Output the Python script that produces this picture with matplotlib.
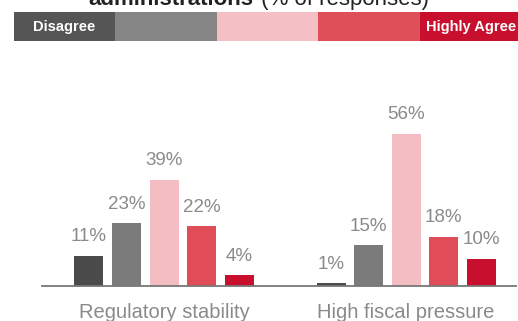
import matplotlib.pyplot as plt
import numpy as np

plt.rcParams['font.family'] = ['Liberation Sans', 'DejaVu Sans']

# survey answers per statement, from Disagree to Highly Agree
categories = ['Regulatory stability', 'High fiscal pressure']
scale_labels = ['Disagree', '', '', '', 'Highly Agree']
regulatory = [11, 23, 39, 22, 4]
fiscal = [1, 15, 56, 18, 10]

bar_colors = ['#4b4b4b', '#7b7b7b', '#f4bcc3', '#e04c57', '#c8102e']
key_colors = ['#555555', '#858585', '#f5bfc6', '#df4f59', '#c8102e']

W, H = 518, 321
fig = plt.figure(figsize=(W / 100, H / 100), dpi=100)
fig.patch.set_facecolor('white')

# title, mostly cut off at the top edge
fig.text(253 / W, 1 - 5 / H, 'administrations', ha='right', va='baseline',
         fontsize=16, fontweight='bold', color='#222222')
fig.text(255 / W, 1 - 5 / H, ' (% of responses)', ha='left', va='baseline',
         fontsize=16, color='#222222')

# colour key strip
kax = fig.add_axes([14 / W, 1 - 41 / H, 1 - 14 / W, 29 / H])
kax.barh(0, [1] * 5, left=np.arange(5), height=1, color=key_colors, align='edge')
kax.set_xlim(0, 4.97)
kax.set_ylim(0, 1)
kax.axis('off')
kax.text(0.19, 0.5, scale_labels[0], color='white', fontsize=10.5,
         fontweight='bold', va='center', ha='left')
kax.text(4.06, 0.5, scale_labels[-1], color='white', fontsize=10.5,
         fontweight='bold', va='center', ha='left')

# bar groups
px_per_pct = 2.72
base_y = 286
top_y = 60
ax = fig.add_axes([42 / W, 1 - base_y / H, (516 - 42) / W, (base_y - top_y) / H])
ax.set_facecolor('none')

step = 37.5 / 242
width = 29 / 242
offsets = (np.arange(5) - 2) * step
for g, vals in enumerate([regulatory, fiscal]):
    xs = g + offsets
    ax.bar(xs, vals, width=width, color=bar_colors)
    for x, v in zip(xs, vals):
        ax.annotate(f'{v}%', (x, v), xytext=(0, 10.5), textcoords='offset points',
                    ha='center', va='baseline', fontsize=13.5, color='#8a8a8a')

ax.set_xlim((42 - 164) / 242, (516 - 164) / 242)
ax.set_ylim(0, (base_y - top_y) / px_per_pct)
for s in ['top', 'right', 'left']:
    ax.spines[s].set_visible(False)
ax.spines['bottom'].set_color('#777777')
ax.spines['bottom'].set_linewidth(1.3)
ax.set_yticks([])
ax.set_xticks([0, 1])
ax.set_xticklabels(categories, fontsize=14.5, color='#8a8a8a')
ax.tick_params(axis='x', length=0, pad=12)

fig.savefig('out.png', dpi=100, facecolor='white')
